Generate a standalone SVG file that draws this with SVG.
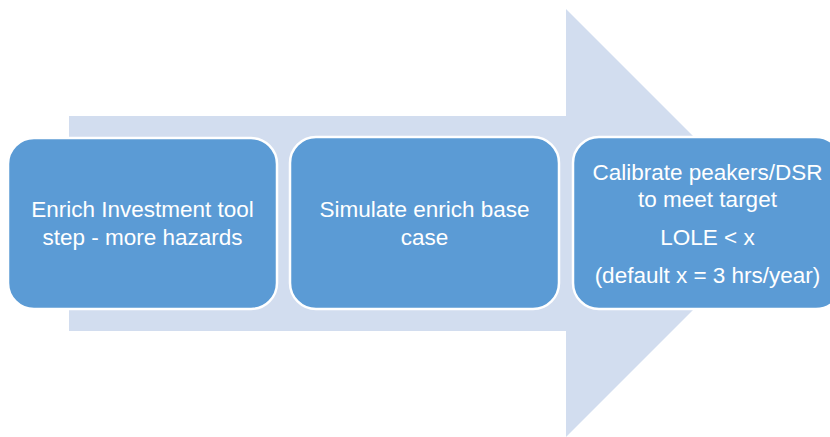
<svg xmlns="http://www.w3.org/2000/svg" width="830" height="437" viewBox="0 0 830 437">
<style>
.box{fill:#5B9BD5;stroke:#FFFFFF;stroke-width:2.5}
.t{font-family:"Liberation Sans",Arial,sans-serif;font-size:22.5px;fill:#FFFFFF;text-anchor:middle}
</style>
<rect width="830" height="437" fill="#FFFFFF"/>
<g id="arrow">
<polygon points="69,116 566,116 566,9 780,223 566,437 566,331 69,331" fill="#D2DDEF"/>
</g>
<g id="node1">
<rect class="box" x="8" y="138" width="269" height="171" rx="26" ry="26"/>
<text class="t" x="142.5" y="217">Enrich Investment tool</text>
<text class="t" x="142.5" y="245">step - more hazards</text>
</g>
<g id="node2">
<rect class="box" x="290" y="137" width="269" height="172" rx="26" ry="26"/>
<text class="t" x="424.5" y="217">Simulate enrich base</text>
<text class="t" x="424.5" y="245">case</text>
</g>
<g id="node3">
<rect class="box" x="573" y="137" width="269" height="172" rx="26" ry="26"/>
<text class="t" x="707.5" y="180">Calibrate peakers/DSR</text>
<text class="t" x="707.5" y="207">to meet target</text>
<text class="t" x="707.5" y="245">LOLE &lt; x</text>
<text class="t" x="707.5" y="283">(default x = 3 hrs/year)</text>
</g>
<g id="connectors"/>
</svg>
